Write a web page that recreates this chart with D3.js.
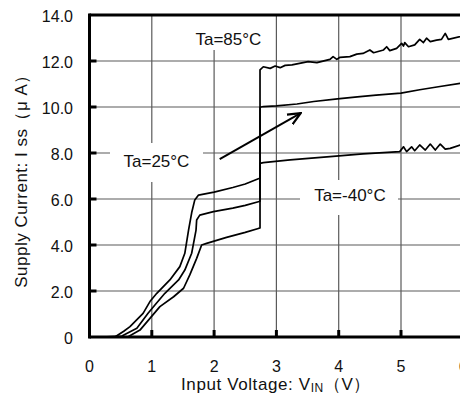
<!DOCTYPE html>
<html><head><meta charset="utf-8">
<script src="https://cdn.jsdelivr.net/npm/d3@7"></script>
<style>
html,body{margin:0;padding:0;background:#fff;}
svg{display:block;font-family:"Liberation Sans",Arial,sans-serif;}
</style></head>
<body>
<svg id="c" width="460" height="396"></svg>
<script>
// ---- data ----
const xTicks = [0,1,2,3,4,5,6];
const yTicks = [0,2,4,6,8,10,12,14];
const yTickLabels = ["0","2.0","4.0","6.0","8.0","10.0","12.0","14.0"];

const v85 = [0.2,0.42,0.55,0.65,0.86,0.97,1.08,1.29,1.45,1.53,1.59,1.64,1.69,1.75,2.0,2.3,2.5,2.71,2.737,2.737,2.79,2.90,2.98,3.06,3.14,3.25,3.51,3.65,3.86,3.91,3.97,4.02,4.18,4.29,4.39,4.50,4.56,4.72,4.77,4.82,4.93,5.01,5.04,5.06,5.12,5.22,5.30,5.36,5.41,5.47,5.57,5.65,5.71,5.76,5.95,6.0];
const i85 = [0,0.02,0.25,0.45,1.03,1.54,1.90,2.48,3.06,3.64,4.65,5.4,5.96,6.17,6.3,6.5,6.65,6.88,6.9,11.61,11.75,11.68,11.78,11.71,11.81,11.83,11.97,11.93,12.07,12.19,12.07,12.16,12.19,12.30,12.33,12.48,12.36,12.48,12.62,12.45,12.55,12.77,12.65,12.80,12.62,12.70,12.94,12.80,12.99,12.84,12.91,12.94,13.20,12.94,13.06,13.1];

const v25 = [0.2,0.52,0.76,0.94,1.05,1.21,1.43,1.53,1.64,1.71,1.72,1.77,1.99,2.3,2.5,2.71,2.737,2.737,2.79,3.0,3.33,3.6,3.98,4.3,4.6,5.0,5.3,5.6,5.95,6.0];
const i25 = [0,0.04,0.38,1.03,1.39,1.90,2.48,2.91,3.64,4.65,5.09,5.30,5.45,5.6,5.72,5.88,5.9,9.99,10.02,10.05,10.13,10.24,10.35,10.44,10.52,10.6,10.75,10.88,11.03,11.05];

const vM40 = [0.2,0.62,0.81,0.97,1.13,1.35,1.51,1.61,1.72,1.80,1.88,2.2,2.5,2.71,2.737,2.737,2.79,3.22,3.86,4.39,4.98,5.04,5.09,5.17,5.22,5.30,5.39,5.47,5.55,5.63,5.71,5.79,5.95,6.0];
const iM40 = [0,0.01,0.3,0.81,1.32,1.75,2.12,2.70,3.42,4.0,4.07,4.33,4.55,4.72,4.74,7.55,7.58,7.70,7.84,7.96,8.06,8.27,8.06,8.27,8.10,8.35,8.13,8.39,8.13,8.39,8.17,8.20,8.35,8.37];

const seriesNames = ["Ta=85°C","Ta=25°C","Ta=-40°C"];
// label anchors in data coords (v, i)
const labelV = [2.23, 1.075, 4.18];
const labelI = [12.7, 7.38, 5.9];
const arrowV = [2.09, 3.39];
const arrowI = [7.73, 9.73];

// ---- drawing ----
const svg = d3.select("#c");
const x = d3.scaleLinear().domain([0,6]).range([89.5, 463.3]);
const y = d3.scaleLinear().domain([0,14]).range([337, 15]);

// grid
const g = svg.append("g");
g.selectAll(".vg").data(xTicks.filter(d=>d>0)).enter().append("line")
  .attr("x1",d=>x(d)).attr("x2",d=>x(d)).attr("y1",y(14)).attr("y2",y(0))
  .attr("stroke","#5a5a5a").attr("stroke-width",1.2);
g.selectAll(".hg").data(yTicks.filter(d=>d>0 && d<14)).enter().append("line")
  .attr("x1",x(0)).attr("x2",470).attr("y1",d=>y(d)).attr("y2",d=>y(d))
  .attr("stroke","#5a5a5a").attr("stroke-width",1.2);

// label background boxes (white, interrupting grid)
const boxes = [
  {x0:186, x1:268, y0:16, y1:50},
  {x0:110, x1:203, y0:143, y1:182},
  {x0:300, x1:398, y0:180, y1:215}
];
svg.selectAll(".bx").data(boxes).enter().append("rect")
  .attr("x",d=>d.x0).attr("y",d=>d.y0).attr("width",d=>d.x1-d.x0).attr("height",d=>d.y1-d.y0)
  .attr("fill","#fff");

// curves
const line = d3.line().x(d=>x(d[0])).y(d=>y(d[1]));
const allSeries = [[v85,i85],[v25,i25],[vM40,iM40]];
allSeries.forEach(([vs,is])=>{
  svg.append("path").datum(vs.map((v,k)=>[v,is[k]]))
    .attr("d",line).attr("fill","none").attr("stroke","#000")
    .attr("stroke-width",1.7).attr("stroke-linejoin","round");
});

// arrow
svg.append("defs").append("marker").attr("id","ah")
  .attr("viewBox","0 0 10 10").attr("refX",9).attr("refY",5)
  .attr("markerWidth",7).attr("markerHeight",7).attr("orient","auto")
  .append("path").attr("d","M0,1 L9,5 L0,9").attr("fill","none").attr("stroke","#000").attr("stroke-width",1.6);
svg.append("line")
  .attr("x1",x(arrowV[0])).attr("y1",y(arrowI[0]))
  .attr("x2",x(arrowV[1])).attr("y2",y(arrowI[1]))
  .attr("stroke","#000").attr("stroke-width",2).attr("marker-end","url(#ah)");

// labels
svg.selectAll(".lb").data(seriesNames).enter().append("text")
  .attr("x",(d,k)=>x(labelV[k])).attr("y",(d,k)=>y(labelI[k]))
  .attr("text-anchor","middle").attr("font-size",17).attr("fill","#111")
  .text(d=>d);

// axes frame
const left = x(0);
svg.append("line").attr("x1",left).attr("x2",left).attr("y1",y(14)-1.5).attr("y2",y(0)+1.5)
  .attr("stroke","#000").attr("stroke-width",3);
svg.append("line").attr("x1",left).attr("x2",470).attr("y1",y(0)).attr("y2",y(0))
  .attr("stroke","#000").attr("stroke-width",3);
svg.append("line").attr("x1",left).attr("x2",470).attr("y1",y(14)).attr("y2",y(14))
  .attr("stroke","#000").attr("stroke-width",3);

// ticks (inward)
svg.selectAll(".yt").data(yTicks.filter(d=>d>0&&d<14)).enter().append("line")
  .attr("x1",left).attr("x2",left+7).attr("y1",d=>y(d)).attr("y2",d=>y(d))
  .attr("stroke","#000").attr("stroke-width",3);
svg.selectAll(".xt").data(xTicks.filter(d=>d>0)).enter().append("line")
  .attr("x1",d=>x(d)).attr("x2",d=>x(d)).attr("y1",y(0)).attr("y2",y(0)-7)
  .attr("stroke","#000").attr("stroke-width",3);

// tick labels
svg.selectAll(".ytl").data(yTicks).enter().append("text")
  .attr("x",73).attr("y",(d)=>y(d)+7).attr("text-anchor","end")
  .attr("font-size",16).attr("fill","#111").text((d,k)=>yTickLabels[k]);
svg.selectAll(".xtl").data(xTicks).enter().append("text")
  .attr("x",d=>x(d)).attr("y",372).attr("text-anchor","middle")
  .attr("font-size",16).attr("fill","#111").text(d=>d);

// axis titles
const xt = svg.append("text").attr("x",276).attr("y",390).attr("text-anchor","middle")
  .attr("font-size",17).attr("fill","#111").attr("letter-spacing",0.6);
xt.append("tspan").text("Input Voltage:  V");
xt.append("tspan").attr("font-size",12).attr("dy",2).text("IN");
xt.append("tspan").attr("dy",-2).text("（V）");

svg.append("text").attr("transform","translate(27,177) rotate(-90)")
  .attr("text-anchor","middle").attr("font-size",17).attr("fill","#111")
  .attr("letter-spacing",0.5)
  .text("Supply Current:  I  ss（μ A）");
</script>
</body></html>
